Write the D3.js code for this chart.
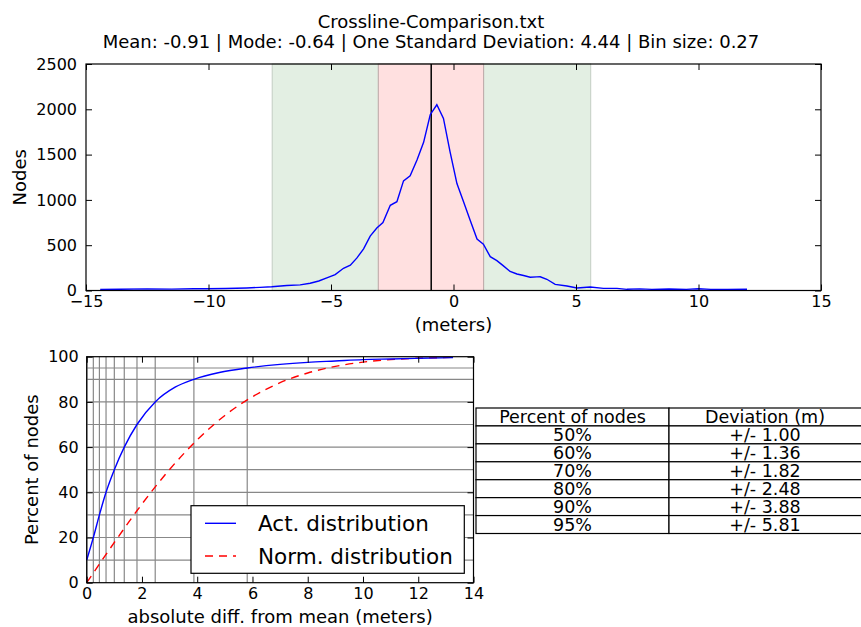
<!DOCTYPE html>
<html>
<head>
<meta charset="utf-8">
<script src="https://cdn.jsdelivr.net/npm/d3@7"></script>
<style>
  body { margin: 0; background: #fff; }
  svg { display: block; font-family: "DejaVu Sans", sans-serif; }
  .tick text { fill: #000; }
</style>
</head>
<body>
<svg id="chart" width="861" height="627"></svg>
<script>
// histogram of crossline differences (bin centres in meters, node counts)
const binCenters = [-14.42, -13.6, -12.5, -11.5, -10.6, -10.07, -9.3, -8.44, -7.9, -7.42,
  -6.8, -6.26, -5.85, -5.5, -5.17, -4.83, -4.49, -4.21, -3.94, -3.67, -3.4, -3.13, -2.88,
  -2.58, -2.31, -2.04, -1.77, -1.49, -1.22, -0.95, -0.68, -0.41, -0.14, 0.14, 0.41, 0.68,
  0.96, 1.22, 1.5, 1.77, 2.0, 2.31, 2.59, 2.86, 3.13, 3.4, 3.54, 3.81, 4.15, 4.63, 5.04,
  5.58, 6.12, 6.67, 7.08, 7.6, 8.1, 8.8, 9.5, 10.0, 10.5, 11.2, 11.98];
const nodeCounts = [12, 14, 18, 15, 20, 20, 22, 28, 35, 42,
  55, 62, 80, 105, 140, 175, 245, 280, 360, 460, 600, 690, 750,
  940, 980, 1210, 1265, 1440, 1635, 1940, 2050, 1900, 1530, 1180, 980, 775,
  568, 512, 373, 330, 280, 210, 182, 165, 146, 150, 152, 124, 68, 50, 28,
  39, 24, 24, 13, 18, 12, 16, 12, 20, 12, 12, 13];

const meanValue = -0.91;
const innerBand = [-3.07, 1.23];
const outerBand = [-7.4, 5.6];

// cumulative curves (absolute diff from mean vs percent of nodes)
const actDiff = [0, 0.24, 0.46, 0.70, 1.00, 1.36, 1.82, 2.48, 3.2, 3.88, 4.8, 5.81, 7.0, 8.0, 9.0, 10.0, 11.0, 12.0, 13.26];
const actPct = [10, 20, 30, 40, 50, 60, 70, 80, 86.5, 90, 93, 95, 96.6, 97.5, 98.1, 98.7, 99.0, 99.3, 99.6];
const normDiff = [0, 1, 2, 3, 4, 5, 6, 7, 8, 9, 10, 11, 12, 13.26];
const normPct = [0, 17.8, 34.8, 50.1, 63.2, 74.0, 82.3, 88.5, 92.8, 95.7, 97.6, 98.7, 99.3, 99.7];

// grid lines at percent levels and their deviations
const gridPct = [10, 20, 30, 40, 50, 60, 70, 80, 90, 95];
const gridDev = [0.01, 0.24, 0.46, 0.70, 1.00, 1.36, 1.82, 2.48, 3.88, 5.81];

// table
const tableHeader = ['Percent of nodes', 'Deviation (m)'];
const tablePct = ['50%', '60%', '70%', '80%', '90%', '95%'];
const tableDev = ['+/- 1.00', '+/- 1.36', '+/- 1.82', '+/- 2.48', '+/- 3.88', '+/- 5.81'];

const titleLines = ['Crossline-Comparison.txt',
  'Mean: -0.91 | Mode: -0.64 | One Standard Deviation: 4.44 | Bin size: 0.27'];

const svg = d3.select('#chart');
const tickFont = 16;
const labelFont = 18;

// title
svg.append('g').selectAll('text')
  .data(titleLines)
  .join('text')
  .attr('x', 431)
  .attr('y', (d, i) => 28 + i * 20)
  .attr('text-anchor', 'middle')
  .attr('font-size', labelFont)
  .text(d => d);

// ---------- top chart ----------
const topBox = {left: 86, right: 821, top: 64, bottom: 290.5};
const x1 = d3.scaleLinear().domain([-15, 15]).range([topBox.left, topBox.right]);
const y1 = d3.scaleLinear().domain([0, 2500]).range([topBox.bottom, topBox.top]);

const g1 = svg.append('g');

g1.append('rect')
  .attr('x', x1(outerBand[0])).attr('y', topBox.top)
  .attr('width', x1(outerBand[1]) - x1(outerBand[0]))
  .attr('height', topBox.bottom - topBox.top)
  .attr('fill', 'rgb(227,239,227)')
  .attr('stroke', 'rgb(195,205,195)');

g1.append('rect')
  .attr('x', x1(innerBand[0])).attr('y', topBox.top)
  .attr('width', x1(innerBand[1]) - x1(innerBand[0]))
  .attr('height', topBox.bottom - topBox.top)
  .attr('fill', 'rgb(255,224,224)')
  .attr('stroke', 'rgb(185,165,165)');

g1.append('line')
  .attr('x1', x1(meanValue)).attr('x2', x1(meanValue))
  .attr('y1', topBox.top).attr('y2', topBox.bottom)
  .attr('stroke', '#000').attr('stroke-width', 1.5);

const histLine = d3.line()
  .x((d, i) => x1(binCenters[i]))
  .y(d => y1(d));

g1.append('path')
  .datum(nodeCounts)
  .attr('d', histLine)
  .attr('fill', 'none')
  .attr('stroke', '#0000ff')
  .attr('stroke-width', 1.4);

function styleAxis(sel) {
  sel.selectAll('.domain').remove();
  sel.selectAll('.tick line').attr('stroke', '#000');
  sel.selectAll('.tick text').attr('font-size', tickFont).attr('font-family', 'DejaVu Sans');
}

g1.append('g')
  .attr('transform', `translate(0,${topBox.bottom})`)
  .call(d3.axisBottom(x1).ticks(6).tickSize(-6).tickPadding(5))
  .call(styleAxis);
g1.append('g')
  .attr('transform', `translate(0,${topBox.top})`)
  .call(d3.axisTop(x1).ticks(6).tickSize(-6).tickFormat(''))
  .call(styleAxis);
g1.append('g')
  .attr('transform', `translate(${topBox.left},0)`)
  .call(d3.axisLeft(y1).ticks(5).tickSize(-6).tickPadding(9).tickFormat(d3.format('d')))
  .call(styleAxis);
g1.append('g')
  .attr('transform', `translate(${topBox.right},0)`)
  .call(d3.axisRight(y1).ticks(5).tickSize(-6).tickFormat(''))
  .call(styleAxis);

g1.append('rect')
  .attr('x', topBox.left).attr('y', topBox.top)
  .attr('width', topBox.right - topBox.left).attr('height', topBox.bottom - topBox.top)
  .attr('fill', 'none').attr('stroke', '#000').attr('stroke-width', 1.2);

g1.append('text')
  .attr('x', (topBox.left + topBox.right) / 2).attr('y', 331)
  .attr('text-anchor', 'middle').attr('font-size', labelFont)
  .text('(meters)');
g1.append('text')
  .attr('transform', `translate(26,${(topBox.top + topBox.bottom) / 2}) rotate(-90)`)
  .attr('text-anchor', 'middle').attr('font-size', labelFont)
  .text('Nodes');

// ---------- bottom chart ----------
const botBox = {left: 86.7, right: 473.5, top: 356.7, bottom: 582.7};
const x2 = d3.scaleLinear().domain([0, 14]).range([botBox.left, botBox.right]);
const y2 = d3.scaleLinear().domain([0, 100]).range([botBox.bottom, botBox.top]);

const g2 = svg.append('g');

g2.append('g').selectAll('line')
  .data(gridPct)
  .join('line')
  .attr('x1', botBox.left).attr('x2', botBox.right)
  .attr('y1', d => y2(d)).attr('y2', d => y2(d))
  .attr('stroke', '#888').attr('stroke-width', 1.2);
g2.append('g').selectAll('line')
  .data(gridDev)
  .join('line')
  .attr('x1', d => x2(d)).attr('x2', d => x2(d))
  .attr('y1', botBox.top).attr('y2', botBox.bottom)
  .attr('stroke', '#888').attr('stroke-width', 1.2);

g2.append('path')
  .datum(normPct)
  .attr('d', d3.line().curve(d3.curveMonotoneX).x((d, i) => x2(normDiff[i])).y(d => y2(d)))
  .attr('fill', 'none').attr('stroke', '#ff0000').attr('stroke-width', 1.4)
  .attr('stroke-dasharray', '8,6');
g2.append('path')
  .datum(actPct)
  .attr('d', d3.line().curve(d3.curveMonotoneX).x((d, i) => x2(actDiff[i])).y(d => y2(d)))
  .attr('fill', 'none').attr('stroke', '#0000ff').attr('stroke-width', 1.4);

g2.append('g')
  .attr('transform', `translate(0,${botBox.bottom})`)
  .call(d3.axisBottom(x2).ticks(7).tickSize(-6).tickPadding(5))
  .call(styleAxis);
g2.append('g')
  .attr('transform', `translate(0,${botBox.top})`)
  .call(d3.axisTop(x2).ticks(7).tickSize(-6).tickFormat(''))
  .call(styleAxis);
g2.append('g')
  .attr('transform', `translate(${botBox.left},0)`)
  .call(d3.axisLeft(y2).ticks(5).tickSize(-6).tickPadding(8))
  .call(styleAxis);
g2.append('g')
  .attr('transform', `translate(${botBox.right},0)`)
  .call(d3.axisRight(y2).ticks(5).tickSize(-6).tickFormat(''))
  .call(styleAxis);

g2.append('rect')
  .attr('x', botBox.left).attr('y', botBox.top)
  .attr('width', botBox.right - botBox.left).attr('height', botBox.bottom - botBox.top)
  .attr('fill', 'none').attr('stroke', '#000').attr('stroke-width', 1.2);

g2.append('text')
  .attr('x', (botBox.left + botBox.right) / 2).attr('y', 623)
  .attr('text-anchor', 'middle').attr('font-size', labelFont)
  .text('absolute diff. from mean (meters)');
g2.append('text')
  .attr('transform', `translate(38,${(botBox.top + botBox.bottom) / 2}) rotate(-90)`)
  .attr('text-anchor', 'middle').attr('font-size', labelFont)
  .text('Percent of nodes');

// legend
const legend = g2.append('g');
legend.append('rect')
  .attr('x', 191).attr('y', 505.7).attr('width', 273.3).attr('height', 67.6)
  .attr('fill', '#fff').attr('stroke', '#000').attr('stroke-width', 1.2);
const legendItems = [
  {label: 'Act. distribution', color: '#0000ff', dash: null},
  {label: 'Norm. distribution', color: '#ff0000', dash: '8,6'}
];
legendItems.forEach((d, i) => {
  const yy = 523.3 + i * 32.7;
  legend.append('line')
    .attr('x1', 205).attr('x2', 236).attr('y1', yy).attr('y2', yy)
    .attr('stroke', d.color).attr('stroke-width', 1.4)
    .attr('stroke-dasharray', d.dash);
  legend.append('text')
    .attr('x', 258).attr('y', yy + 7.5)
    .attr('font-size', 21.5)
    .text(d.label);
});

// ---------- table ----------
const tbl = {left: 476, mid: 669, right: 864};
const rows = d3.scaleBand().domain(d3.range(tablePct.length + 1)).range([408, 533.5]);
const tableRows = [tableHeader].concat(tablePct.map((p, i) => [p, tableDev[i]]));
const gt = svg.append('g');
gt.selectAll('g')
  .data(tableRows)
  .join('g')
  .each(function (row, i) {
    const r = d3.select(this);
    [[tbl.left, tbl.mid], [tbl.mid, tbl.right]].forEach((c, j) => {
      r.append('rect')
        .attr('x', c[0]).attr('y', rows(i))
        .attr('width', c[1] - c[0]).attr('height', rows.bandwidth())
        .attr('fill', '#fff').attr('stroke', '#000').attr('stroke-width', 1.2);
      r.append('text')
        .attr('x', (c[0] + 669 + (j === 0 ? 0 : 861 - 669)) / 2)
        .attr('y', rows(i) + rows.bandwidth() / 2 + 6.5)
        .attr('text-anchor', 'middle').attr('font-size', 17.5)
        .text(row[j]);
    });
  });
</script>
</body>
</html>
